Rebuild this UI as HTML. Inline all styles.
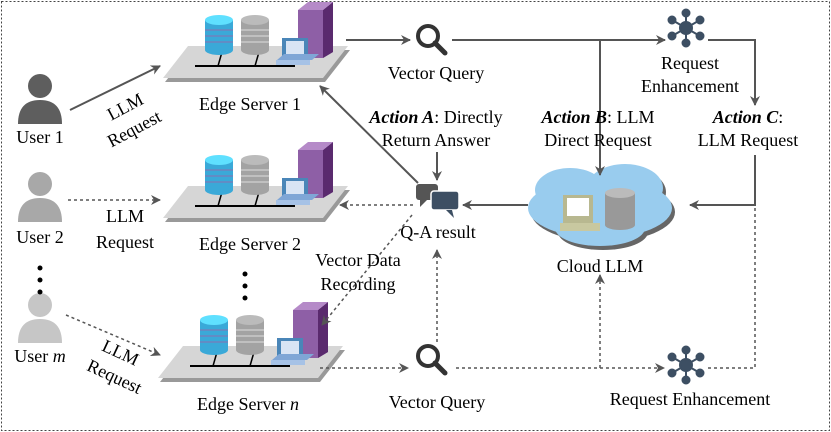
<!DOCTYPE html>
<html><head><meta charset="utf-8"><style>
html,body{margin:0;padding:0;background:#fff;}
svg{display:block;font-family:"Liberation Serif",serif;}
</style></head><body>
<svg width="831" height="432" viewBox="0 0 831 432" xmlns="http://www.w3.org/2000/svg">
<defs>
<marker id="ar" markerWidth="10" markerHeight="10" refX="9" refY="5" orient="auto" markerUnits="userSpaceOnUse" viewBox="0 0 10 10"><path d="M0,0 L10,5 L0,10 L3,5z" fill="#555"/></marker>
<g id="srv">
 <polygon points="-65,52 95,52 120,20 -40,20" fill="#999"/>
 <polygon points="-67,48 93,48 118,16 -42,16" fill="#d6d6d6"/>
 <line x1="-35" y1="36" x2="65" y2="36" stroke="#000" stroke-width="2"/>
 <line x1="-12" y1="36" x2="-8" y2="22" stroke="#000" stroke-width="1.5"/>
 <line x1="25" y1="36" x2="29" y2="22" stroke="#000" stroke-width="1.5"/>
 <rect x="-25" y="-10" width="28" height="30" fill="#3aa9d8"/>
 <ellipse cx="-11" cy="20" rx="14" ry="5" fill="#3aa9d8"/>
 <ellipse cx="-11" cy="-10" rx="14" ry="5" fill="#5fe0ff"/>
 <g stroke="#8a6fb0" stroke-width="1"><line x1="-25" y1="0" x2="3" y2="0"/><line x1="-25" y1="6" x2="3" y2="6"/><line x1="-25" y1="12" x2="3" y2="12"/></g>
 <rect x="11" y="-10" width="28" height="30" fill="#a3a3a3"/>
 <ellipse cx="25" cy="20" rx="14" ry="5" fill="#a3a3a3"/>
 <ellipse cx="25" cy="-10" rx="14" ry="5" fill="#bbb"/>
 <g stroke="#ddd" stroke-width="1"><line x1="11" y1="0" x2="39" y2="0"/><line x1="11" y1="6" x2="39" y2="6"/><line x1="11" y1="12" x2="39" y2="12"/></g>
 <polygon points="68,-20 93,-20 103,-28 103,22 93,28 68,28" fill="#8e5fa6"/>
 <polygon points="93,-20 103,-28 103,22 93,28" fill="#5a2a6e"/>
 <polygon points="68,-20 93,-20 103,-28 78,-28" fill="#b58ac8"/>
 <rect x="52" y="8" width="26" height="20" fill="#4a86b8"/>
 <rect x="56" y="11" width="18" height="13" fill="#d8e4f4"/>
 <polygon points="47,30 82,30 89,24 54,24" fill="#7fa6d6"/>
 <rect x="46" y="30" width="34" height="5" fill="#a6c2e6"/>
</g>
<g id="user"><circle cx="0" cy="0" r="12"/><path d="M-22,38 Q-22,14 0,14 Q22,14 22,38z"/></g>
<g id="mag"><circle cx="0" cy="0" r="10" fill="none" stroke="#333" stroke-width="4"/><line x1="7" y1="7" x2="17" y2="17" stroke="#333" stroke-width="5" stroke-linecap="round"/></g>
<g id="hub" stroke="#3d4f63" stroke-width="2" fill="#3d4f63">
 <line x1="0" y1="0" x2="0" y2="-15"/><line x1="0" y1="0" x2="14" y2="-8"/><line x1="0" y1="0" x2="14" y2="8"/><line x1="0" y1="0" x2="0" y2="15"/><line x1="0" y1="0" x2="-14" y2="8"/><line x1="0" y1="0" x2="-14" y2="-8"/>
 <circle r="6"/><circle cx="0" cy="-15" r="3.5"/><circle cx="14" cy="-8" r="3.5"/><circle cx="14" cy="8" r="3.5"/><circle cx="0" cy="15" r="3.5"/><circle cx="-14" cy="8" r="3.5"/><circle cx="-14" cy="-8" r="3.5"/>
</g>
</defs>
<rect x="1.5" y="1.5" width="828" height="429" fill="none" stroke="#444" stroke-dasharray="2,2"/>

<use href="#srv" x="230" y="30"/>
<use href="#srv" x="230" y="170"/>
<use href="#srv" x="225" y="330"/>

<use href="#user" x="40" y="86" fill="#5e5e5e"/>
<use href="#user" x="40" y="184" fill="#a8a8a8"/>
<use href="#user" x="40" y="305" fill="#c6c6c6"/>
<g fill="#000"><circle cx="40" cy="268" r="2.5"/><circle cx="40" cy="280" r="2.5"/><circle cx="40" cy="292" r="2.5"/>
<circle cx="245" cy="274" r="2.5"/><circle cx="245" cy="286" r="2.5"/><circle cx="245" cy="298" r="2.5"/></g>

<use href="#mag" x="428" y="36"/>
<use href="#mag" x="428" y="356"/>
<use href="#hub" x="686" y="28"/>
<use href="#hub" x="686" y="365"/>

<rect x="416" y="184" width="22" height="16" rx="3" fill="#555"/>
<polygon points="420,200 420,207 427,200" fill="#555"/>
<rect x="431" y="191" width="28" height="19" rx="3" fill="#3d4f63" stroke="#fff" stroke-width="1.5"/>
<polygon points="452,210 454,218 446,210" fill="#3d4f63"/>

<g fill="#666" transform="translate(3,4)"><ellipse cx="600" cy="208" rx="72" ry="30"/><ellipse cx="570" cy="190" rx="35" ry="22"/><ellipse cx="625" cy="188" rx="38" ry="24"/><ellipse cx="600" cy="228" rx="45" ry="18"/></g>
<g fill="#99ccee"><ellipse cx="600" cy="208" rx="72" ry="30"/><ellipse cx="570" cy="190" rx="35" ry="22"/><ellipse cx="625" cy="188" rx="38" ry="24"/><ellipse cx="600" cy="228" rx="45" ry="18"/></g>
<rect x="563" y="195" width="30" height="28" fill="#b8b890"/><rect x="567" y="198" width="22" height="18" fill="#fff"/>
<rect x="560" y="223" width="40" height="8" fill="#c8c8a0"/>
<rect x="605" y="193" width="30" height="32" fill="#999"/><ellipse cx="620" cy="225" rx="15" ry="5" fill="#999"/><ellipse cx="620" cy="193" rx="15" ry="5" fill="#bbb"/>

<g stroke="#555" stroke-width="2" fill="none">
<line x1="70" y1="110" x2="160" y2="66" marker-end="url(#ar)"/>
<line x1="346" y1="40" x2="410" y2="40" marker-end="url(#ar)"/>
<line x1="452" y1="40" x2="665" y2="40" marker-end="url(#ar)"/>
<line x1="600" y1="40" x2="600" y2="175" marker-end="url(#ar)"/>
<polyline points="708,40 755,40 755,105" marker-end="url(#ar)"/>
<polyline points="755,155 755,205 690,205" marker-end="url(#ar)"/>
<line x1="437" y1="152" x2="437" y2="180" marker-end="url(#ar)"/>
<line x1="418" y1="183" x2="320" y2="86" marker-end="url(#ar)"/>
<line x1="528" y1="205" x2="463" y2="205" marker-end="url(#ar)"/>
</g>
<g stroke="#555" stroke-width="1.5" fill="none" stroke-dasharray="3,3">
<line x1="413" y1="205" x2="340" y2="205" marker-end="url(#ar)"/>
<line x1="412" y1="215" x2="322" y2="325" marker-end="url(#ar)"/>
<line x1="68" y1="200" x2="160" y2="200" marker-end="url(#ar)"/>
<line x1="66" y1="315" x2="160" y2="355" marker-end="url(#ar)"/>
<line x1="320" y1="368" x2="408" y2="368" marker-end="url(#ar)"/>
<line x1="437" y1="342" x2="437" y2="250" marker-end="url(#ar)"/>
<line x1="456" y1="368" x2="664" y2="368" marker-end="url(#ar)"/>
<line x1="600" y1="368" x2="600" y2="275" marker-end="url(#ar)"/>
<polyline points="708,368 755,368 755,205"/>
</g>

<g font-size="18" fill="#000" text-anchor="middle">
<text x="250" y="110">Edge Server 1</text>
<text x="250" y="250">Edge Server 2</text>
<text x="248" y="410">Edge Server <tspan font-style="italic">n</tspan></text>
<text x="40" y="143">User 1</text>
<text x="40" y="243">User 2</text>
<text x="40" y="362">User <tspan font-style="italic">m</tspan></text>
<text x="125" y="222">LLM</text><text x="125" y="248">Request</text>
<text transform="translate(128,112) rotate(-28)">LLM</text>
<text transform="translate(137,134) rotate(-28)">Request</text>
<text transform="translate(118,358) rotate(25)">LLM</text>
<text transform="translate(112,382) rotate(25)">Request</text>
<text x="436" y="79">Vector Query</text>
<text x="437" y="408">Vector Query</text>
<text x="690" y="69">Request</text><text x="690" y="92">Enhancement</text>
<text x="690" y="405">Request Enhancement</text>
<text x="436" y="123"><tspan font-weight="bold" font-style="italic">Action A</tspan>: Directly</text>
<text x="436" y="146">Return Answer</text>
<text x="598" y="123"><tspan font-weight="bold" font-style="italic">Action B</tspan>: LLM</text>
<text x="598" y="146">Direct Request</text>
<text x="748" y="123"><tspan font-weight="bold" font-style="italic">Action C</tspan>:</text>
<text x="748" y="146">LLM  Request</text>
<text x="438" y="238">Q-A result</text>
<text x="600" y="272">Cloud LLM</text>
<text x="358" y="266">Vector Data</text>
<text x="358" y="290">Recording</text>
</g>
</svg>
</body></html>
